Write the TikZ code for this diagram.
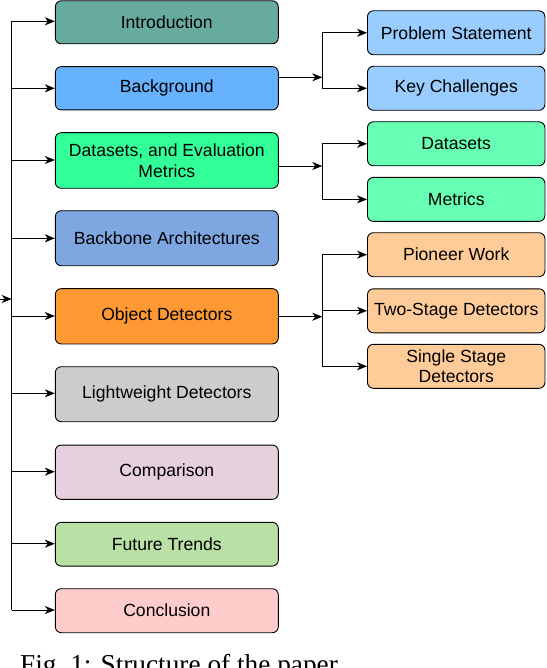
\documentclass[tikz,border=0pt]{standalone}
\usepackage{fontspec}
\setmainfont{Liberation Sans}
\newfontfamily\capfont{Liberation Serif}
\usetikzlibrary{arrows.meta,calc}
\definecolor{cIntro}{HTML}{67AB9F}
\definecolor{cBack}{HTML}{66B2FF}
\definecolor{cData}{HTML}{33FF99}
\definecolor{cBone}{HTML}{7EA6E0}
\definecolor{cObj}{HTML}{FF9933}
\definecolor{cLight}{HTML}{CCCCCC}
\definecolor{cComp}{HTML}{E6D0DE}
\definecolor{cFut}{HTML}{B9E0A5}
\definecolor{cConc}{HTML}{FFCCCC}
\definecolor{cSubB}{HTML}{99CCFF}
\definecolor{cSubD}{HTML}{66FFB3}
\definecolor{cSubO}{HTML}{FFCC99}
\tikzset{
  secbox/.style={draw=black, line width=0.9pt, rounded corners=6pt, minimum width=223pt, align=center,
    font=\fontsize{17.6}{20.5}\selectfont, inner sep=0pt},
  subbox/.style={draw=black, line width=0.9pt, rounded corners=6pt, minimum width=177.5pt, minimum height=44pt, align=center,
    font=\fontsize{17.6}{20.5}\selectfont, inner sep=0pt},
  conn/.style={line width=0.9pt, draw=black},
  arr/.style={conn, -{Stealth[length=10pt,width=8pt,inset=3pt]}},
}
\begin{document}
\begin{tikzpicture}[x=1pt,y=-1pt]
\useasboundingbox (0,0) rectangle (546,668);
\clip (0,0) rectangle (546,668);
% main section boxes
\node[secbox, fill=cIntro, minimum height=43pt] (intro) at (166.8,22.3) {Introduction};
\node[secbox, fill=cBack,  minimum height=43.3pt] (back) at (166.8,88.3) {Background};
\node[secbox, fill=cData,  minimum height=55.6pt] (data) at (166.8,160.5) {Datasets, and Evaluation\\Metrics};
\node[secbox, fill=cBone,  minimum height=55pt] (bone) at (166.8,238.2) {Backbone Architectures};
\node[secbox, fill=cObj,   minimum height=55.3pt] (obj) at (166.8,316.3) {Object Detectors};
\node[secbox, fill=cLight, minimum height=55pt] (light) at (166.8,394.2) {Lightweight Detectors};
\node[secbox, fill=cComp,  minimum height=54.3pt] (comp) at (166.8,472.2) {Comparison};
\node[secbox, fill=cFut,   minimum height=43.7pt] (fut) at (166.8,544.2) {Future Trends};
\node[secbox, fill=cConc,  minimum height=44pt] (conc) at (166.8,610.7) {Conclusion};
% sub boxes
\node[subbox, fill=cSubB] (prob) at (456.2,32.8) {Problem Statement};
\node[subbox, fill=cSubB] (key) at (456.2,88.3) {Key Challenges};
\node[subbox, fill=cSubD] (dset) at (456.2,143.8) {Datasets};
\node[subbox, fill=cSubD] (metr) at (456.2,199.4) {Metrics};
\node[subbox, fill=cSubO] (pion) at (456.2,254.7) {Pioneer Work};
\node[subbox, fill=cSubO] (two) at (456.2,310.8) {Two-Stage Detectors};
\node[subbox, fill=cSubO] (single) at (456.2,366.3) {Single Stage\\Detectors};
% left bus
\coordinate (src) at (0,299);
\coordinate (busMid) at (11.7,299);
\coordinate (bI) at (11.7,21.3);
\coordinate (bB) at (11.7,88.3);
\coordinate (bD) at (11.7,160);
\coordinate (bBo) at (11.7,238.3);
\coordinate (bO) at (11.7,316);
\coordinate (bL) at (11.7,393.3);
\coordinate (bC) at (11.7,471.7);
\coordinate (bF) at (11.7,543.7);
\coordinate (bCo) at (11.7,610);
\draw[conn] (bI) -- (bCo);
\draw[arr] (src) -- (busMid);
\draw[arr] (bI) -- (bI -| intro.west);
\draw[arr] (bB) -- (bB -| back.west);
\draw[arr] (bD) -- (bD -| data.west);
\draw[arr] (bBo) -- (bBo -| bone.west);
\draw[arr] (bO) -- (bO -| obj.west);
\draw[arr] (bL) -- (bL -| light.west);
\draw[arr] (bC) -- (bC -| comp.west);
\draw[arr] (bF) -- (bF -| fut.west);
\draw[arr] (bCo) -- (bCo -| conc.west);
% Background branch
\coordinate (jB) at (322.3,77.3);
\draw[arr] (back.east |- jB) -- (jB);
\draw[conn] (jB |- prob.west) -- (jB |- key.west);
\draw[arr] (jB |- prob.west) -- (prob.west);
\draw[arr] (jB |- key.west) -- (key.west);
% Datasets branch
\coordinate (jD) at (322.3,166);
\draw[arr] (data.east |- jD) -- (jD);
\draw[conn] (jD |- dset.west) -- (jD |- metr.west);
\draw[arr] (jD |- dset.west) -- (dset.west);
\draw[arr] (jD |- metr.west) -- (metr.west);
% Object detectors branch
\coordinate (jO) at (322.3,316.7);
\draw[arr] (obj.east |- jO) -- (jO);
\draw[conn] (jO |- pion.west) -- (jO |- single.west);
\draw[arr] (jO |- pion.west) -- (pion.west);
\draw[arr] (jO |- two.west) -- (two.west);
\draw[arr] (jO |- single.west) -- (single.west);
% caption (cut off at the bottom, as in the reference)
\node[anchor=base west, inner sep=0pt, font=\capfont\fontsize{27.3}{30}\selectfont] (cap) at (20,673.5) {Fig.\ 1: Structure of the paper.};
\end{tikzpicture}
\end{document}
